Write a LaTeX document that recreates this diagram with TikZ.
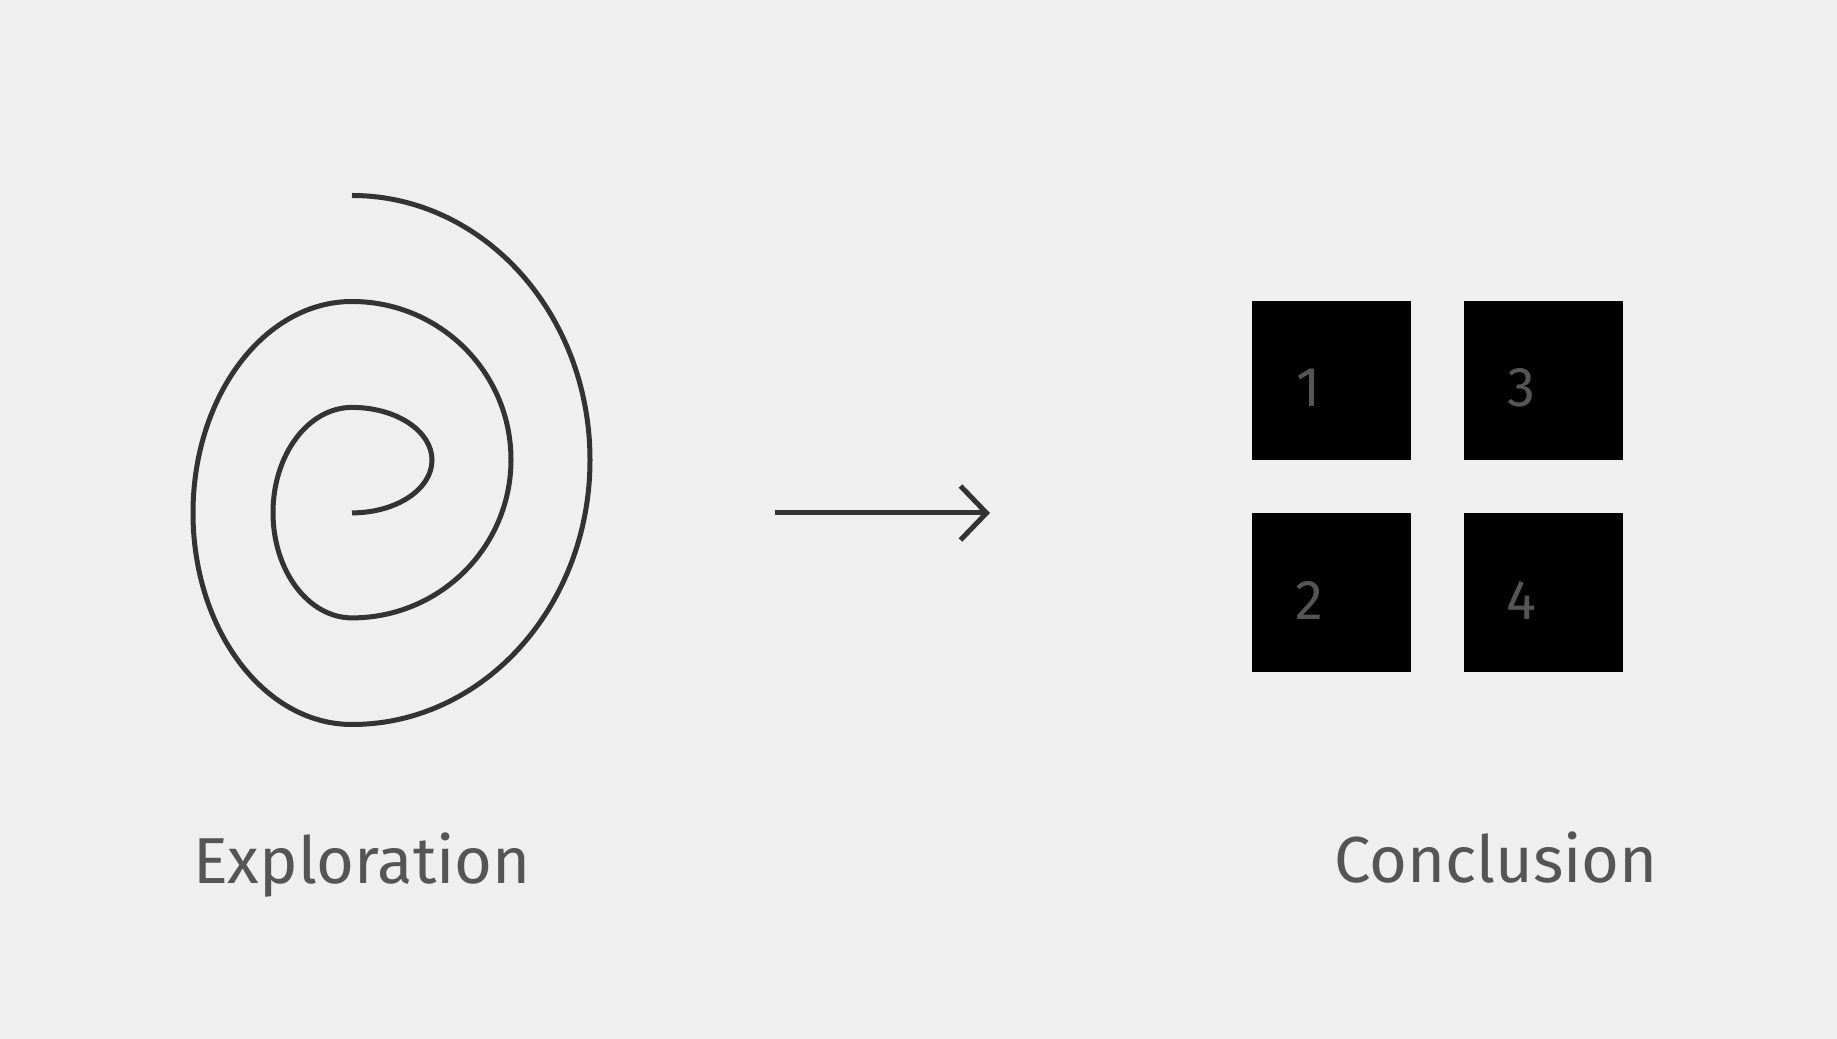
\documentclass[tikz,border=0pt]{standalone}
\usepackage{fontspec}
\setmainfont{Fira Sans}
\usetikzlibrary{positioning,calc}
\definecolor{bgcol}{HTML}{EFEFEF}
\definecolor{inkcol}{HTML}{333333}
\definecolor{txtcol}{HTML}{555555}

\begin{document}
\begin{tikzpicture}[x=1pt, y=1pt, line width=5pt, node distance=53pt,
    box/.style={fill=black, minimum size=159pt, inner sep=0pt, outer sep=0pt},
    digit/.style={text=txtcol, anchor=base, inner sep=0pt, font=\fontsize{56}{60}\selectfont},
    caption/.style={text=txtcol, anchor=base, inner sep=0pt, font=\fontsize{65}{78}\selectfont}]

    % Background
    \fill[bgcol] (0,0) rectangle (1837,1039);
    \useasboundingbox (0,0) rectangle (1837,1039);

    % Spiral
    \draw[inkcol] (352,843.5) arc[start angle=90, end angle=-90, x radius=238, y radius=264.5]
        arc[start angle=-90, end angle=-270, x radius=159, y radius=211.5]
        arc[start angle=90, end angle=-90, x radius=159, y radius=158.2]
        arc[start angle=-90, end angle=-270, x radius=79, y radius=105.25]
        arc[start angle=90, end angle=-90, x radius=80, y radius=52.75];

    % Arrow
    \coordinate (tail) at (775,526);
    \coordinate (tip) at (986.5,526);
    \draw[inkcol] (tail) -- (tip);
    \draw[inkcol, line join=miter] ($(tip)+(-26,27)$) -- (tip) -- ($(tip)+(-26,-27)$);

    % Boxes
    \node (b1) [box] at (1331.5,658.5) {};
    \node (b3) [box, right=of b1] {};
    \node (b2) [box, below=of b1] {};
    \node (b4) [box, right=of b2] {};

    % Digits
    \node (n1) [digit] at ($(b1)+(-22.5,-26.5)$) {1};
    \node (n2) [digit] at ($(b2)+(-22.5,-27.5)$) {2};
    \node (n3) [digit] at ($(b3)+(-22.5,-26.5)$) {3};
    \node (n4) [digit] at ($(b4)+(-22.5,-27.5)$) {4};

    % Captions
    \node (explore) [caption] at (362,155) {Exploration};
    \node (concl) [caption] at (1496,156) {Conclusion};

\end{tikzpicture}
\end{document}
